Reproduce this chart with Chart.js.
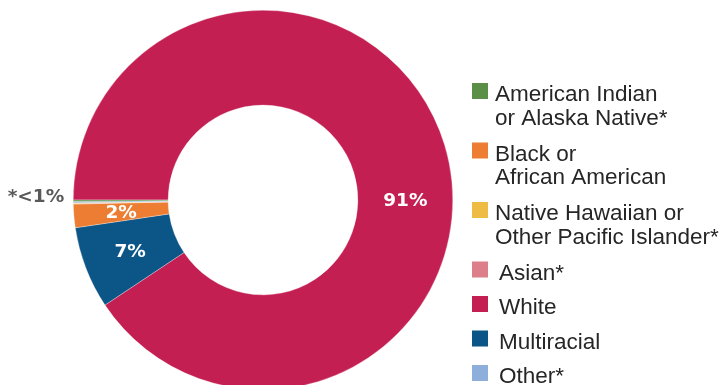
<!DOCTYPE html>
<html>
<head>
<meta charset="utf-8">
<script src="https://cdn.jsdelivr.net/npm/chart.js@4.4.1/dist/chart.umd.min.js"></script>
<style>
  html, body { margin: 0; padding: 0; background: #fff; overflow: hidden; }
  #wrap { width: 724px; height: 400px; }
</style>
</head>
<body>
<div id="wrap"><canvas id="myChart" width="724" height="400"></canvas></div>
<script>
// legend order
const categories = [
    ['American Indian', 'or Alaska Native*'],
    ['Black or', 'African American'],
    ['Native Hawaiian or', 'Other Pacific Islander*'],
    ['Asian*'],
    ['White'],
    ['Multiracial'],
    ['Other*']
];
const values = [0.12, 2, 0.05, 0.05, 90.66, 7, 0.12];
const percentLabels = ['', '2%', '', '', '91%', '7%', ''];
const colors = ['#5b8f47', '#ec7d32', '#eebc43', '#dd7f8a', '#c41f52', '#0c5587', '#8eaedb'];
// order the slices go round the ring, clockwise from 9 o'clock
const sliceOrder = [4, 5, 1, 3, 2, 6, 0];
const smallNote = '*<1%';

const canvas = document.getElementById('myChart').getContext('2d');

// percent labels on the ring + the "<1%" note outside
const sliceLabels = {
    id: 'sliceLabels',
    afterDatasetsDraw(chart) {
        const ctx = chart.ctx;
        const arcs = chart.getDatasetMeta(0).data;
        ctx.save();
        ctx.font = 'bold 18.5px "DejaVu Sans"';
        ctx.textBaseline = 'middle';
        const maxVal = Math.max(...values);
        arcs.forEach((arc, i) => {
            const idx = sliceOrder[i];
            const text = percentLabels[idx];
            if (!text) return;
            let pos = arc.tooltipPosition();
            if (values[idx] === maxVal) {
                // big slice label sits on the right side of the ring
                pos = { x: arc.x + (arc.innerRadius + arc.outerRadius) / 2, y: arc.y };
            }
            ctx.fillStyle = '#ffffff';
            ctx.textAlign = 'center';
            ctx.fillText(text, pos.x, pos.y + 1);
        });
        const a0 = arcs[0];
        ctx.fillStyle = '#595959';
        ctx.textAlign = 'right';
        ctx.fillText(smallNote, a0.x - a0.outerRadius - 9, a0.y - 3);
        ctx.restore();
    }
};

// legend on the right, multi-line items
const sideLegend = {
    id: 'sideLegend',
    afterDraw(chart) {
        const ctx = chart.ctx;
        const boxX = 472, box = 16, lineH = 23.5;
        let y = 101; // baseline of first line
        ctx.save();
        ctx.font = '22.5px "Liberation Sans"';
        ctx.textBaseline = 'alphabetic';
        ctx.textAlign = 'left';
        categories.forEach((lines, i) => {
            ctx.fillStyle = colors[i];
            ctx.fillRect(boxX, y - 18, box, box);
            ctx.fillStyle = '#262626';
            const multi = lines.length > 1;
            const tx = multi ? 495 : 499;
            lines.forEach((t, k) => ctx.fillText(t, tx, y + k * lineH));
            y += lines.length * lineH + (multi ? 12.5 : 11);
        });
        ctx.restore();
    }
};

const data = {
    labels: sliceOrder.map(i => categories[i].join(' ')),
    datasets: [{
        data: sliceOrder.map(i => values[i]),
        backgroundColor: sliceOrder.map(i => colors[i]),
        borderColor: 'rgba(255,255,255,0.6)',
        borderWidth: 0.5
    }]
};

const config = {
    type: 'doughnut',
    data: data,
    options: {
        responsive: false,
        animation: false,
        rotation: 270,
        cutout: '50%',
        layout: { padding: { left: 73, right: 271, top: 10, bottom: 10 } },
        plugins: {
            legend: { display: false },
            tooltip: { enabled: false }
        }
    },
    plugins: [sliceLabels, sideLegend]
};

new Chart(canvas, config);
</script>
</body>
</html>
